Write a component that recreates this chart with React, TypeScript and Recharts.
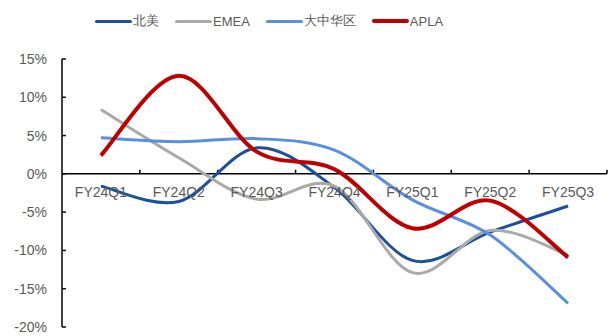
import { LineChart, Line, XAxis, YAxis, ReferenceLine, Legend } from 'recharts'

const quarters = ['FY24Q1', 'FY24Q2', 'FY24Q3', 'FY24Q4', 'FY25Q1', 'FY25Q2', 'FY25Q3']
const northAmerica = [-1.6, -3.6, 3.4, -1.8, -11.3, -7.6, -4.2]
const emea = [8.4, 2.1, -3.3, -1.6, -12.9, -7.4, -10.6]
const greaterChina = [4.7, 4.2, 4.6, 3.1, -3.4, -8.0, -16.9]
const apla = [2.4, 12.8, 2.9, 0.6, -7.1, -3.5, -10.9]
const yTicks = [-20, -15, -10, -5, 0, 5, 10, 15]

const series = [
  { key: 'na', name: '北美', values: northAmerica, color: '#1C4F9C', width: 3 },
  { key: 'emea', name: 'EMEA', values: emea, color: '#A9A9A9', width: 3 },
  { key: 'gc', name: '大中华区', values: greaterChina, color: '#5A8FE0', width: 3 },
  { key: 'apla', name: 'APLA', values: apla, color: '#C00000', width: 4 },
]

const W = 612
const H = 336
const Y_MIN = -20
const Y_MAX = 15
const MARGIN = { top: 59, right: 5, bottom: 0, left: 0 }
const X_AXIS_H = 9
const PLOT_H = H - MARGIN.top - MARGIN.bottom - X_AXIS_H
const GREY = '#595959'

const data = quarters.map((q, i) => {
  const row: any = { x: i + 0.5, q }
  series.forEach(s => { row[s.key] = s.values[i] })
  return row
})

// excel-style smoothed line: catmull-rom through every point
function smoothCurve(context: any) {
  let pts: number[][] = []
  return {
    areaStart() {},
    areaEnd() {},
    lineStart() { pts = [] },
    point(x: number, y: number) { pts.push([+x, +y]) },
    lineEnd() {
      if (!pts.length) return
      context.moveTo(pts[0][0], pts[0][1])
      for (let i = 0; i < pts.length - 1; i++) {
        const p0 = pts[Math.max(i - 1, 0)]
        const p1 = pts[i]
        const p2 = pts[i + 1]
        const p3 = pts[Math.min(i + 2, pts.length - 1)]
        context.bezierCurveTo(
          p1[0] + (p2[0] - p0[0]) / 6, p1[1] + (p2[1] - p0[1]) / 6,
          p2[0] - (p3[0] - p1[0]) / 6, p2[1] - (p3[1] - p1[1]) / 6,
          p2[0], p2[1],
        )
      }
    },
  }
}

// axis labels sit just under the zero line, not at the bottom of the plot
const zeroShift = PLOT_H * (0 - Y_MIN) / (Y_MAX - Y_MIN)
const QuarterTick = ({ x, y, payload }: any) => (
  <text x={x} y={y - zeroShift + 23} textAnchor="middle" fill={GREY} fontSize={14}>
    {quarters[Math.floor(payload.value)]}
  </text>
)

const LegendContent = () => (
  <div style={{ display: 'flex', alignItems: 'center', fontSize: 13, color: GREY }}>
    {series.map(s => (
      <div key={s.key} style={{ display: 'flex', alignItems: 'center', marginRight: 16 }}>
        <span style={{ display: 'inline-block', width: 37, height: s.width, background: s.color, borderRadius: 2 }} />
        <span style={{ marginLeft: 1 }}>{s.name}</span>
      </div>
    ))}
  </div>
)

export default function App() {
  return (
    <div style={{ position: 'absolute', left: 0, top: 0, width: W, height: H, background: '#fff', fontFamily: '"Liberation Sans", Arial, sans-serif' }}>
      <LineChart width={W} height={H} data={data} margin={MARGIN}>
        <XAxis
          dataKey="x"
          type="number"
          domain={[0, quarters.length]}
          ticks={quarters.map((_, i) => i + 0.5)}
          tick={<QuarterTick />}
          axisLine={false}
          tickLine={false}
          tickSize={0}
          tickMargin={0}
          height={X_AXIS_H}
          interval={0}
        />
        <YAxis
          domain={[Y_MIN, Y_MAX]}
          ticks={yTicks}
          tickFormatter={v => `${v}%`}
          tick={{ fontSize: 14, fill: GREY }}
          axisLine={{ stroke: '#000', strokeWidth: 1.5 }}
          tickLine={false}
          tickSize={0}
          tickMargin={15}
          width={62}
          interval={0}
        />
        <ReferenceLine y={0} stroke="#000" strokeWidth={1.5} />
        {quarters.map((_, i) => (
          <ReferenceLine
            key={'xt' + i}
            segment={[{ x: i + 1, y: 0 }, { x: i + 1, y: 0.55 }]}
            stroke="#000"
            strokeWidth={1.5}
          />
        ))}
        {yTicks.map(v => (
          <ReferenceLine
            key={'yt' + v}
            segment={[{ x: 0, y: v }, { x: 0.05, y: v }]}
            stroke="#000"
            strokeWidth={1.5}
          />
        ))}
        <Legend
          verticalAlign="middle"
          align="center"
          content={<LegendContent />}
          wrapperStyle={{ top: 12, left: 95, width: 'auto' }}
        />
        {series.map(s => (
          <Line
            key={s.key}
            dataKey={s.key}
            name={s.name}
            type={smoothCurve as any}
            stroke={s.color}
            strokeWidth={s.width}
            dot={false}
            activeDot={false}
            isAnimationActive={false}
          />
        ))}
      </LineChart>
    </div>
  )
}
